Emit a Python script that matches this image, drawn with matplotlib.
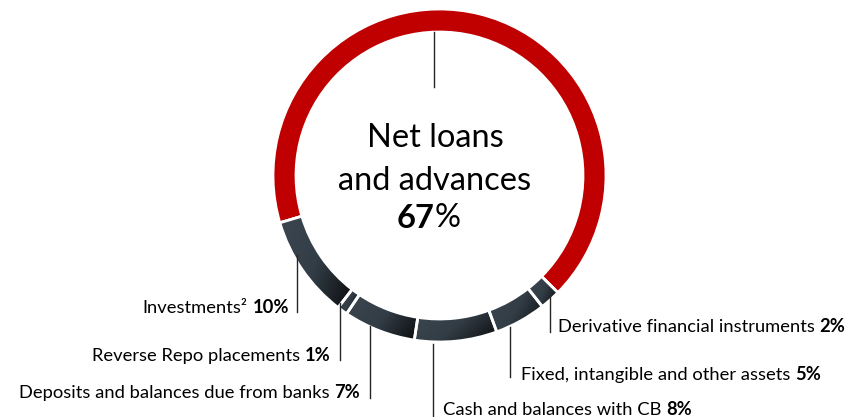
import numpy as np
import matplotlib.pyplot as plt
from matplotlib.patches import Wedge
from matplotlib.colors import LinearSegmentedColormap

plt.rcParams['font.family'] = ['Lato', 'DejaVu Sans']

# asset mix, clockwise from the big red slice
categories = ['Net loans and advances', 'Derivative financial instruments',
              'Fixed, intangible and other assets', 'Cash and balances with CB',
              'Deposits and balances due from banks', 'Reverse Repo placements',
              'Investments\u00b2']
shares = [67, 2, 5, 8, 7, 1, 10]

W, H = 848, 417
fig = plt.figure(figsize=(W / 100, H / 100), dpi=100)
ax = fig.add_axes([0, 0, 1, 1])

cx, cy, R, ring = 439.5, H - 175.5, 166.5, 23
colors = ['#c00000'] + ['#2a3138'] * (len(shares) - 1)
wedges, _ = ax.pie(shares, colors=colors, startangle=196.5, counterclock=False,
                   center=(cx, cy), radius=R, frame=True,
                   wedgeprops=dict(width=ring, edgecolor='white', linewidth=2))
ax.set_xlim(0, W)
ax.set_ylim(0, H)
ax.set_aspect('equal')
ax.axis('off')

# slate-to-black shading on the grey slices
cmap = LinearSegmentedColormap.from_list('slate', ['#3b4650', '#333d46', '#0a0c0e'])
for w in wedges[1:]:
    xx, yy_ = np.meshgrid(np.linspace(0, 1, 60), np.linspace(0, 1, 60))
    g = xx * 0.75 + yy_ * 0.35
    g = (g - g.min()) / (g.max() - g.min())
    tb = w.get_path().transformed(w.get_patch_transform()).get_extents()
    im = ax.imshow(g, cmap=cmap, extent=(tb.x0, tb.x1, tb.y0, tb.y1),
                   origin='upper', aspect='auto', zorder=2)
    im.set_clip_path(w)
    ax.add_patch(Wedge(w.center, w.r, w.theta1, w.theta2, width=w.width,
                       facecolor='none', edgecolor='white', linewidth=2, zorder=3))
ax.set_xlim(0, W)
ax.set_ylim(0, H)

line_kw = dict(color='#262626', linewidth=1, zorder=4)

def yy(v):
    return H - v

# leader from the red slice to the centre text
ax.plot([434, 434], [yy(32), yy(87)], **line_kw)
cfs = 23.5
ax.text(435, yy(147), 'Net loans', ha='center', va='baseline', fontsize=cfs)
ax.text(435, yy(190), 'and advances', ha='center', va='baseline', fontsize=cfs)
big = ax.text(435, yy(228), '67', ha='right', va='baseline', fontsize=cfs,
              fontweight='bold')
ax.annotate('%', xy=(1, 0), xycoords=big, ha='left', va='bottom', fontsize=cfs)

# (line x, line top, line bottom, text x, baseline, side)
label_pos = {
    'Investments\u00b2': (297, 255, 312, 289, 313, 'right'),
    'Reverse Repo placements': (340, 303, 360, 331, 361, 'right'),
    'Deposits and balances due from banks': (370, 326, 398, 360, 398, 'right'),
    'Cash and balances with CB': (433, 344, 417, 443, 415, 'left'),
    'Fixed, intangible and other assets': (510, 327, 377, 521, 380, 'left'),
    'Derivative financial instruments': (550, 295, 332, 558, 332, 'left'),
}

fs = 13.2
gap = 3.5
for name, val in zip(categories[1:], shares[1:]):
    lx, ly0, ly1, tx, base, side = label_pos[name]
    ax.plot([lx, lx], [yy(ly0), yy(ly1)], **line_kw)
    pct = f'{val}%'
    if side == 'right':
        b = ax.text(tx, yy(base), pct, ha='right', va='baseline', fontsize=fs,
                    fontweight='bold')
        ax.annotate(name, xy=(0, 0), xycoords=b, xytext=(-gap, 0),
                    textcoords='offset points', ha='right', va='bottom', fontsize=fs)
    else:
        t = ax.text(tx, yy(base), name, ha='left', va='baseline', fontsize=fs)
        ax.annotate(pct, xy=(1, 0), xycoords=t, xytext=(gap, 0),
                    textcoords='offset points', ha='left', va='bottom', fontsize=fs,
                    fontweight='bold')

fig.savefig('out.png', dpi=100)
